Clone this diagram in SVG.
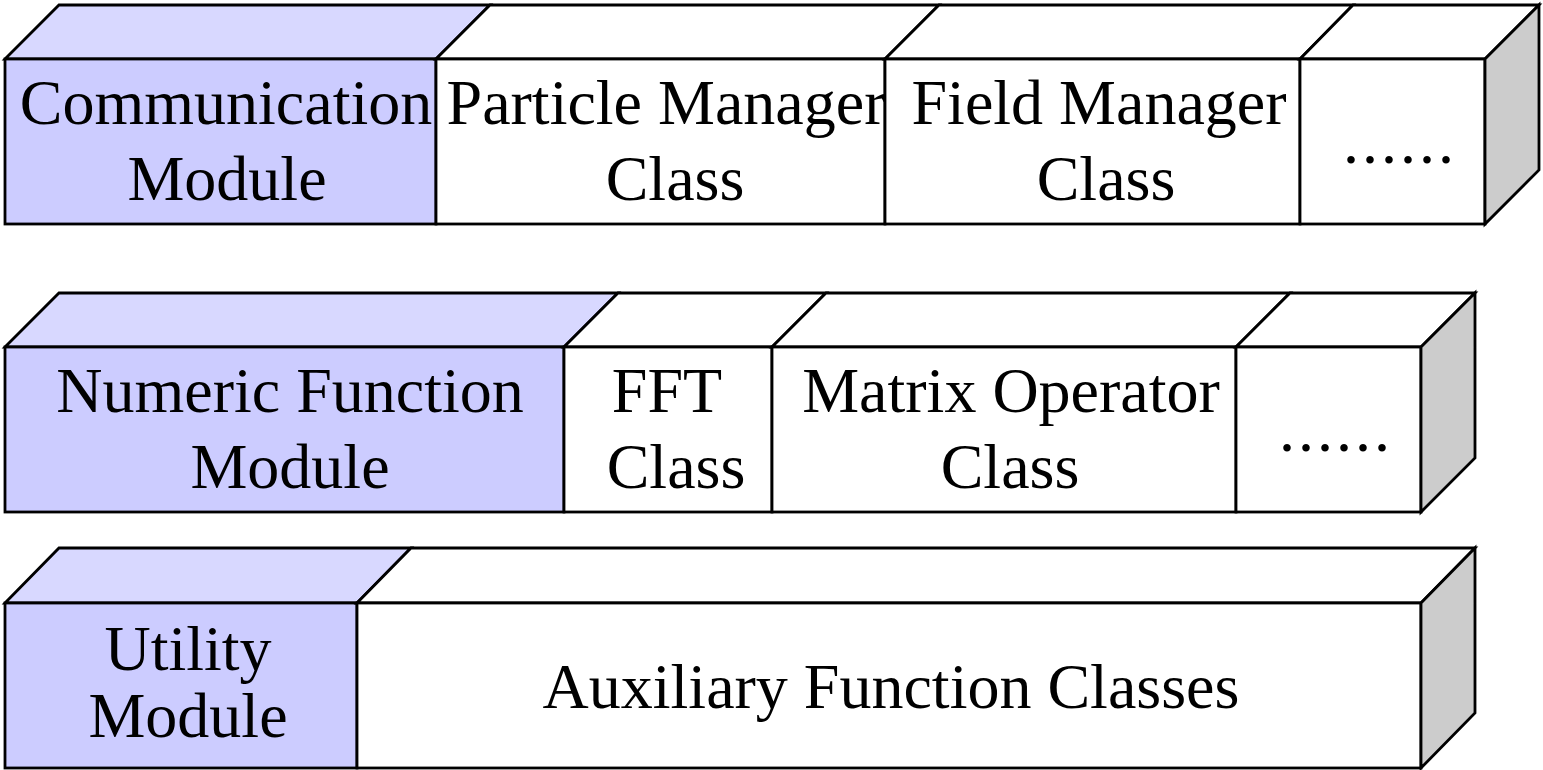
<svg xmlns="http://www.w3.org/2000/svg" width="1543" height="770" viewBox="0 0 1543 770">
<style>
.e{stroke:#000;stroke-width:2.8;stroke-linejoin:miter}
.mf{fill:#CCCCFF}
.mt{fill:#D8D8FF}
.wf{fill:#FFFFFF}
.sd{fill:#CCCCCC}
.t{font-family:"Liberation Serif","Times New Roman",serif;font-size:64px;fill:#000;text-anchor:middle}
</style>
<rect width="1543" height="770" fill="#fff"/>
<!-- Row 1 -->
<g id="row1">
<g id="communication-module">
<polygon class="e mt" points="5,59 59,5 490,5 436,59"/>
<rect class="e mf" x="5" y="59" width="431" height="165"/>
<text class="t" x="226" y="124">Communication</text>
<text class="t" x="227" y="200">Module</text>
</g>
<g id="particle-manager">
<polygon class="e wf" points="436,59 490,5 939,5 885,59"/>
<rect class="e wf" x="436" y="59" width="449" height="165"/>
<text class="t" x="666" y="124">Particle Manager</text>
<text class="t" x="675" y="200">Class</text>
</g>
<g id="field-manager">
<polygon class="e wf" points="885,59 939,5 1353,5 1300,59"/>
<rect class="e wf" x="885" y="59" width="415" height="165"/>
<text class="t" x="1099" y="124">Field Manager</text>
<text class="t" x="1106" y="200">Class</text>
</g>
<g id="more1">
<polygon class="e wf" points="1300,59 1353,5 1539,5 1485,59"/>
<rect class="e wf" x="1300" y="59" width="185" height="165"/>
<polygon class="e sd" points="1485,59 1539,5 1539,170 1485,224"/>
<text class="t" x="1400" y="163" letter-spacing="3">......</text>
</g>
</g>
<!-- Row 2 -->
<g id="row2">
<g id="numeric-function-module">
<polygon class="e mt" points="5,347 59,293 618,293 564,347"/>
<rect class="e mf" x="5" y="347" width="559" height="165"/>
<text class="t" x="290" y="412">Numeric Function</text>
<text class="t" x="290" y="488">Module</text>
</g>
<g id="fft-class">
<polygon class="e wf" points="564,347 618,293 826,293 772,347"/>
<rect class="e wf" x="564" y="347" width="208" height="165"/>
<text class="t" x="667" y="412">FFT</text>
<text class="t" x="676" y="488">Class</text>
</g>
<g id="matrix-operator">
<polygon class="e wf" points="772,347 826,293 1290,293 1236,347"/>
<rect class="e wf" x="772" y="347" width="464" height="165"/>
<text class="t" x="1011" y="412">Matrix Operator</text>
<text class="t" x="1010" y="488">Class</text>
</g>
<g id="more2">
<polygon class="e wf" points="1236,347 1290,293 1475,293 1421,347"/>
<rect class="e wf" x="1236" y="347" width="185" height="165"/>
<polygon class="e sd" points="1421,347 1475,293 1475,458 1421,512"/>
<text class="t" x="1336" y="451" letter-spacing="3">......</text>
</g>
</g>
<!-- Row 3 -->
<g id="row3">
<g id="utility-module">
<polygon class="e mt" points="5,603 59,548 411,548 357,603"/>
<rect class="e mf" x="5" y="603" width="352" height="165"/>
<text class="t" x="188" y="670">Utility</text>
<text class="t" x="188" y="737">Module</text>
</g>
<g id="auxiliary-function-classes">
<polygon class="e wf" points="357,603 411,548 1475,548 1421,603"/>
<rect class="e wf" x="357" y="603" width="1064" height="165"/>
<polygon class="e sd" points="1421,603 1475,548 1475,713 1421,768"/>
<text class="t" x="891" y="708">Auxiliary Function Classes</text>
</g>
</g>
<g id="connectors"></g>
</svg>
